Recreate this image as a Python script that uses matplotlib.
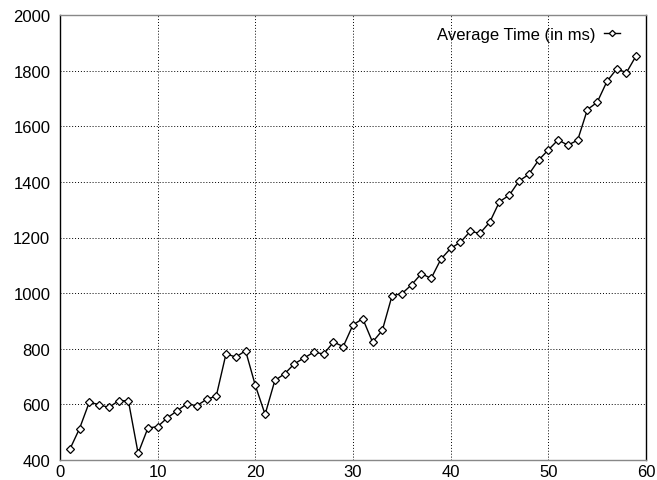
import matplotlib
matplotlib.use("Agg")
import matplotlib.pyplot as plt

x_vals = list(range(1, 60))
avg_time = [438, 513, 608, 599, 589, 613, 613, 424, 515, 520,
            552, 577, 602, 595, 618, 630, 782, 770, 793, 668,
            564, 686, 710, 746, 767, 788, 781, 824, 808, 886,
            908, 824, 866, 991, 998, 1030, 1070, 1053, 1122, 1161,
            1183, 1222, 1215, 1255, 1329, 1352, 1403, 1427, 1478, 1515,
            1551, 1532, 1550, 1660, 1686, 1761, 1806, 1793, 1854]
series_label = "Average Time (in ms)"
x_ticks = [0, 10, 20, 30, 40, 50, 60]
y_ticks = [400, 600, 800, 1000, 1200, 1400, 1600, 1800, 2000]

plt.rcParams['font.family'] = ['Liberation Sans', 'DejaVu Sans']
fig = plt.figure(figsize=(6.57, 4.81), dpi=100)
ax = fig.add_axes([60/657, 1 - 461/481, 586/657, 445/481])

ax.plot(x_vals, avg_time, color='black', lw=1.0, marker='D', markersize=4.0,
        markerfacecolor='white', markeredgecolor='black', markeredgewidth=0.9,
        label=series_label)

ax.set_xlim(0, 60)
ax.set_ylim(400, 2000)
ax.set_xticks(x_ticks)
ax.set_yticks(y_ticks)
ax.tick_params(axis='y', length=0, labelsize=12, pad=7)
ax.tick_params(axis='x', length=0, labelsize=12, pad=3)
ax.grid(True, color='black', linestyle=(0, (1, 2)), linewidth=0.7)
for s in ['left', 'right']:
    ax.spines[s].set_color('black')
    ax.spines[s].set_linewidth(1.0)
for s in ['top', 'bottom']:
    ax.spines[s].set_color('#888888')
    ax.spines[s].set_linewidth(1.0)

leg = ax.legend(loc='upper right', frameon=False, fontsize=12, handlelength=0.95,
                markerfirst=False, handletextpad=0.5, borderaxespad=0.3,
                markerscale=0.8, bbox_to_anchor=(0.975, 1.0))

fig.savefig("out.png", dpi=100)
